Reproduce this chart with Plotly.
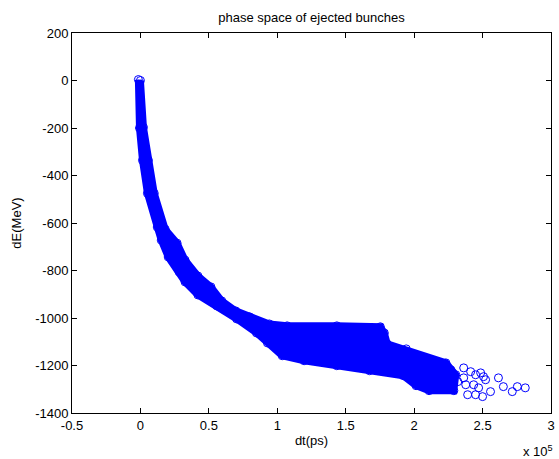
import plotly.graph_objects as go

# Outline of the dense cloud of ejected bunches (circle centres along its edge)
# lower/left edge, from the top of the cloud down to its right end
edge_lo_dt = [-1500, -700, 1500, 5100, 12300, 15200, 20300, 28300, 32600, 42000,
              55800, 70300, 84800, 92800, 103600, 119600, 143500, 167400, 192000,
              201400, 210900, 229000]
edge_lo_dE = [4, -200, -336, -475, -617, -672, -743, -806, -848, -903,
              -949, -1004, -1063, -1105, -1159, -1180, -1201, -1222, -1243,
              -1285, -1306, -1306]
# upper/right edge, from the right end back to the top
edge_up_dt = [230400, 223200, 194200, 180400, 178200, 175300, 143500, 107200, 94200,
              79700, 69600, 59400, 51500, 42000, 32600, 26800, 18100, 10100, 5800, 2200, 0]
edge_up_dE = [-1239, -1189, -1130, -1109, -1063, -1037, -1033, -1033, -1025,
              -995, -970, -928, -869, -823, -756, -685, -626, -475, -336, -197, 0]

# Individual bunches in the sparse tail
tail_dt = [236200, 226800, 244900, 248600, 250700, 252200, 261600, 265200, 271700,
           275400, 281200, 255800, 250000, 243500, 239100, 244900, 236200, 241300,
           237700, 231900, 247100]
tail_dE = [-1210, -1218, -1239, -1231, -1247, -1260, -1252, -1289, -1310,
           -1289, -1294, -1310, -1331, -1281, -1323, -1323, -1252, -1226,
           -1281, -1268, -1294]

x_ticks = [-0.5e5, 0, 0.5e5, 1e5, 1.5e5, 2e5, 2.5e5, 3e5]
x_ticktext = ["-0.5", "0", "0.5", "1", "1.5", "2", "2.5", "3"]
y_ticks = [-1400, -1200, -1000, -800, -600, -400, -200, 0, 200]
y_ticktext = ["-1400", "-1200", "-1000", "-800", "-600", "-400", "-200", "0", "200"]

BLUE = "#0000ff"
FONT = "Liberation Sans, Arial, Helvetica, sans-serif"

fig = go.Figure()
fig.add_trace(go.Scatter(
    x=edge_lo_dt + edge_up_dt, y=edge_lo_dE + edge_up_dE,
    mode="lines+markers", fill="toself", fillcolor=BLUE,
    line=dict(color=BLUE, width=7),
    marker=dict(symbol="circle-open", size=8, color=BLUE, line=dict(width=1)),
    showlegend=False, hoverinfo="skip"))
fig.add_trace(go.Scatter(
    x=tail_dt, y=tail_dE, mode="markers",
    marker=dict(symbol="circle-open", size=8, color=BLUE, line=dict(width=1)),
    showlegend=False))

axis_common = dict(showline=True, linecolor="black", linewidth=1, mirror="ticks",
                   ticks="inside", ticklen=5, tickwidth=1, tickcolor="black",
                   showgrid=False, zeroline=False,
                   tickfont=dict(family=FONT, size=13, color="black"))
fig.update_xaxes(range=[-0.5e5, 3e5], tickvals=x_ticks, ticktext=x_ticktext,
                 title=dict(text="dt(ps)", font=dict(family=FONT, size=13, color="black"), standoff=4),
                 **axis_common)
fig.update_yaxes(range=[-1400, 200], tickvals=y_ticks, ticktext=y_ticktext,
                 title=dict(text="dE(MeV)", font=dict(family=FONT, size=13, color="black"), standoff=10),
                 **axis_common)

fig.update_layout(
    width=559, height=459,
    margin=dict(l=72, r=4, t=33, b=46),
    paper_bgcolor="white", plot_bgcolor="white",
    title=dict(text="phase space of ejected bunches", x=0.5, xref="paper", xanchor="center",
               y=1 - 17 / 459, yref="container", yanchor="middle",
               font=dict(family=FONT, size=13, color="black")),
    annotations=[dict(text="x 10<sup>5</sup>", xref="paper", yref="paper", x=1.0, y=-0.1,
                      xanchor="right", yanchor="middle", showarrow=False, xshift=4,
                      font=dict(family=FONT, size=13, color="black"))],
)

fig.write_html("out.html")
